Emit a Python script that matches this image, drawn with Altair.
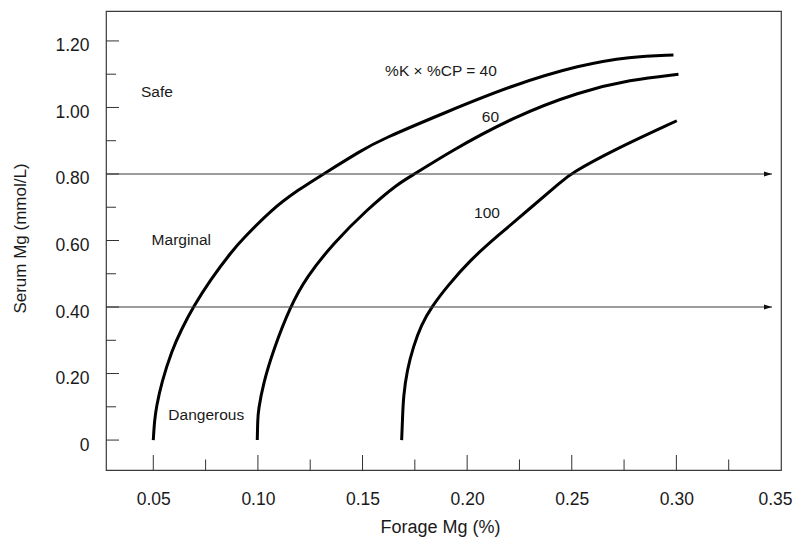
import altair as alt
import pandas as pd

# ---- data ----
curve40_x = [0.0500, 0.0506, 0.0515, 0.0539, 0.0590, 0.0633, 0.0691, 0.0771, 0.0881, 0.0924, 0.1063, 0.1192, 0.1313, 0.1498, 0.1584, 0.1903, 0.2221, 0.2540, 0.2779, 0.2986]
curve40_y = [0.000, 0.060, 0.100, 0.172, 0.271, 0.331, 0.400, 0.481, 0.572, 0.602, 0.692, 0.752, 0.800, 0.872, 0.902, 0.987, 1.068, 1.128, 1.153, 1.158]

curve60_x = [0.0997, 0.0999, 0.1002, 0.1026, 0.1074, 0.1154, 0.1233, 0.1361, 0.1520, 0.1670, 0.1751, 0.1903, 0.2221, 0.2540, 0.2779, 0.3010]
curve60_y = [0.000, 0.060, 0.090, 0.171, 0.271, 0.401, 0.491, 0.592, 0.692, 0.772, 0.800, 0.862, 0.972, 1.048, 1.083, 1.100]

curve100_x = [0.1687, 0.1691, 0.1695, 0.1713, 0.1743, 0.1780, 0.1831, 0.1903, 0.2014, 0.2142, 0.2301, 0.2460, 0.2492, 0.2699, 0.3002]
curve100_y = [0.000, 0.060, 0.130, 0.211, 0.281, 0.346, 0.401, 0.461, 0.541, 0.612, 0.697, 0.782, 0.800, 0.872, 0.960]

arrow_levels = [0.40, 0.80]
arrow_end_x = 0.3457

label_texts = ["Safe", "Marginal", "Dangerous", "%K \u00d7 %CP = 40", "60", "100"]
label_x = [0.0441, 0.0492, 0.0572, 0.1608, 0.2070, 0.2033]
label_y = [1.046, 0.601, 0.075, 1.109, 0.970, 0.682]

x_tick_values = [0.05, 0.10, 0.15, 0.20, 0.25, 0.30, 0.35]
y_tick_values = [0.0, 0.2, 0.4, 0.6, 0.8, 1.0, 1.2]
x_major_marks = [0.05, 0.10, 0.15, 0.20, 0.25, 0.30]
x_minor_marks = [0.075, 0.125, 0.175, 0.225, 0.275, 0.325]
y_major_marks = [0.0, 0.2, 0.4, 0.6, 0.8, 1.0, 1.2]
y_minor_marks = [0.1, 0.3, 0.5, 0.7, 0.9, 1.1]

X_DOMAIN = [0.0274, 0.35]
Y_DOMAIN = [-0.09, 1.29]
W, H = 675, 459
FONT = "Liberation Sans"
INK = "#1a1a1a"
X_TITLE = "Forage Mg (%)"
Y_TITLE = "Serum Mg (mmol/L)"

xscale = alt.Scale(domain=X_DOMAIN, nice=False, zero=False)
yscale = alt.Scale(domain=Y_DOMAIN, nice=False, zero=False)

curves_df = pd.concat([
    pd.DataFrame({"x": curve40_x, "y": curve40_y, "curve": "40"}),
    pd.DataFrame({"x": curve60_x, "y": curve60_y, "curve": "60"}),
    pd.DataFrame({"x": curve100_x, "y": curve100_y, "curve": "100"}),
], ignore_index=True)

x_axis = alt.Axis(
    values=x_tick_values,
    labelExpr="format(datum.value, '.2f')",
    ticks=False, tickSize=0, domain=False, grid=False,
    labelPadding=29, labelBaseline="middle",
    labelOffset={"condition": {"test": "datum.value > 0.34", "value": -6}, "value": 0},
    labelFont=FONT, labelFontSize=17.5, labelColor=INK,
    labelFlush=False, labelOverlap=False,
    titleFont=FONT, titleFontSize=18, titleFontWeight="normal", titleColor=INK,
    titleX=334, titleY=57, titleBaseline="middle", titleAlign="center",
)
y_axis = alt.Axis(
    values=y_tick_values,
    labelExpr="datum.value == 0 ? '0' : format(datum.value, '.2f')",
    ticks=False, tickSize=0, domain=False, grid=False,
    labelPadding=17, labelOffset=5,
    labelFont=FONT, labelFontSize=17.5, labelColor=INK,
    labelFlush=False, labelOverlap=False,
    titleFont=FONT, titleFontSize=17, titleFontWeight="normal", titleColor=INK,
    titleAngle=270, titleX=-86, titleY=227, titleBaseline="middle", titleAlign="center",
)


def X(field):
    return alt.X(field, scale=xscale, axis=x_axis, title=X_TITLE)


def Y(field):
    return alt.Y(field, scale=yscale, axis=y_axis, title=Y_TITLE)


lines = alt.Chart(curves_df).mark_line(
    color="black", strokeWidth=3, interpolate="basis"
).encode(
    x=X("x:Q"),
    y=Y("y:Q"),
    detail="curve:N",
)

arrows_df = pd.DataFrame({
    "x": [X_DOMAIN[0]] * len(arrow_levels),
    "x2": [arrow_end_x] * len(arrow_levels),
    "y": arrow_levels,
})
arrow_lines = alt.Chart(arrows_df).mark_rule(color="#3a3a3a", strokeWidth=1.2).encode(
    x=X("x:Q"),
    x2="x2:Q",
    y=Y("y:Q"),
)
arrow_heads = alt.Chart(arrows_df).mark_point(
    shape="M0,0 L-1,-0.32 L-1,0.32 Z", filled=True, size=256, color="#111111", opacity=1
).encode(
    x=X("x2:Q"),
    y=Y("y:Q"),
)

xmaj = alt.Chart(pd.DataFrame({"x": x_major_marks})).mark_rule(color="#333333", strokeWidth=1).encode(
    x=X("x:Q"), y=alt.value(H), y2=alt.value(H - 15))
xmin = alt.Chart(pd.DataFrame({"x": x_minor_marks})).mark_rule(color="#333333", strokeWidth=1).encode(
    x=X("x:Q"), y=alt.value(H), y2=alt.value(H - 10.5))
ymaj = alt.Chart(pd.DataFrame({"y": y_major_marks})).mark_rule(color="#333333", strokeWidth=1).encode(
    y=Y("y:Q"), x=alt.value(0), x2=alt.value(13))
ymin = alt.Chart(pd.DataFrame({"y": y_minor_marks})).mark_rule(color="#333333", strokeWidth=1).encode(
    y=Y("y:Q"), x=alt.value(0), x2=alt.value(10))

labels_df = pd.DataFrame({"label": label_texts, "x": label_x, "y": label_y})
labels = alt.Chart(labels_df).mark_text(
    align="left", baseline="middle", font=FONT, fontSize=15.5, color=INK
).encode(
    x=X("x:Q"),
    y=Y("y:Q"),
    text="label:N",
)

chart = alt.layer(
    lines, arrow_lines, arrow_heads, xmaj, xmin, ymaj, ymin, labels
).properties(
    width=W, height=H,
    autosize=alt.AutoSizeParams(type="none"),
    padding={"left": 106, "top": 11, "right": 13, "bottom": 79},
    background="white",
).configure_view(stroke="#3a3a3a", strokeWidth=1.2)

chart.save("out.html", embed_options={"renderer": "svg", "actions": False})
